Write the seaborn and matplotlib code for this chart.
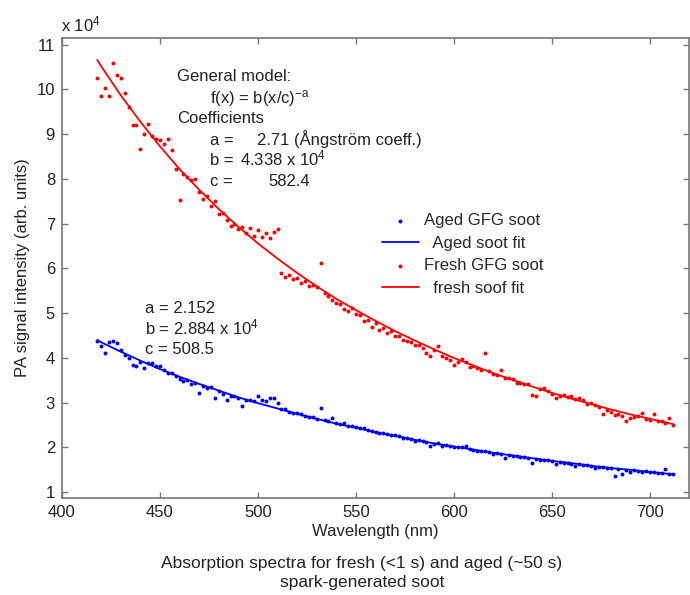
import matplotlib
matplotlib.use("Agg")
import matplotlib.pyplot as plt
import seaborn as sns
import numpy as np
import pandas as pd

### measured wavelengths (nm), shared by both soot samples
wavelength = [418, 420, 422, 424, 426, 428, 430, 432, 434, 436,
              438, 440, 442, 444, 446, 448, 450, 452, 454, 456,
              458, 460, 462, 464, 466, 468, 470, 472, 474, 476,
              478, 480, 482, 484, 486, 488, 490, 492, 494, 496,
              498, 500, 502, 504, 506, 508, 510, 512, 514, 516,
              518, 520, 522, 524, 526, 528, 530, 532, 534, 536,
              538, 540, 542, 544, 546, 548, 550, 552, 554, 556,
              558, 560, 562, 564, 566, 568, 570, 572, 574, 576,
              578, 580, 582, 584, 586, 588, 590, 592, 594, 596,
              598, 600, 602, 604, 606, 608, 610, 612, 614, 616,
              618, 620, 622, 624, 626, 628, 630, 632, 634, 636,
              638, 640, 642, 644, 646, 648, 650, 652, 654, 656,
              658, 660, 662, 664, 666, 668, 670, 672, 674, 676,
              678, 680, 682, 684, 686, 688, 690, 692, 694, 696,
              698, 700, 702, 704, 706, 708, 710, 712]

### PA signal (x 10^4) for fresh soot
fresh_signal = [10.25, 9.86, 10.03, 9.86, 10.59, 10.32, 10.25, 9.92, 9.60, 9.20,
                9.21, 8.68, 9.01, 9.22, 8.97, 8.90, 8.87, 8.79, 8.90, 8.64,
                8.23, 7.53, 8.10, 8.05, 7.98, 8.00, 7.70, 7.55, 7.62, 7.40,
                7.50, 7.22, 7.25, 7.08, 6.95, 7.00, 6.88, 6.92, 6.80, 6.90,
                6.72, 6.85, 6.70, 6.80, 6.68, 6.82, 6.88, 5.89, 5.80, 5.85,
                5.76, 5.78, 5.68, 5.72, 5.60, 5.62, 5.58, 6.12, 5.45, 5.38,
                5.30, 5.22, 5.20, 5.10, 5.05, 5.12, 4.98, 4.95, 4.82, 4.85,
                4.70, 4.78, 4.62, 4.66, 4.56, 4.60, 4.48, 4.50, 4.40, 4.37,
                4.35, 4.30, 4.28, 4.22, 4.10, 4.04, 4.18, 4.26, 4.05, 4.00,
                3.95, 3.85, 3.92, 3.98, 3.90, 3.80, 3.82, 3.78, 3.72, 4.11,
                3.70, 3.64, 3.62, 3.74, 3.56, 3.55, 3.52, 3.45, 3.44, 3.42,
                3.41, 3.18, 3.14, 3.30, 3.33, 3.26, 3.20, 3.11, 3.15, 3.17,
                3.12, 3.14, 3.08, 3.11, 3.06, 2.98, 3.00, 2.94, 2.90, 2.74,
                2.84, 2.80, 2.72, 2.74, 2.70, 2.58, 2.66, 2.68, 2.70, 2.78,
                2.64, 2.62, 2.74, 2.60, 2.58, 2.55, 2.66, 2.50]

### PA signal (x 10^4) for aged soot
aged_signal = [4.37, 4.26, 4.11, 4.36, 4.37, 4.34, 4.18, 4.07, 4.00, 3.85,
               3.81, 3.92, 3.78, 3.89, 3.89, 3.82, 3.81, 3.74, 3.67, 3.66,
               3.59, 3.52, 3.48, 3.50, 3.41, 3.44, 3.22, 3.38, 3.33, 3.35,
               3.11, 3.26, 3.20, 3.07, 3.14, 3.16, 3.10, 2.92, 3.05, 3.07,
               3.04, 3.14, 3.06, 3.03, 3.10, 3.11, 3.00, 2.86, 2.85, 2.80,
               2.78, 2.76, 2.74, 2.70, 2.69, 2.68, 2.64, 2.89, 2.62, 2.60,
               2.66, 2.55, 2.52, 2.55, 2.48, 2.47, 2.45, 2.43, 2.44, 2.40,
               2.37, 2.35, 2.33, 2.33, 2.30, 2.28, 2.27, 2.25, 2.22, 2.20,
               2.19, 2.14, 2.16, 2.14, 2.12, 2.03, 2.08, 2.09, 2.03, 2.06,
               2.04, 2.02, 2.01, 2.00, 2.03, 1.96, 1.95, 1.92, 1.93, 1.91,
               1.90, 1.85, 1.87, 1.86, 1.77, 1.83, 1.81, 1.80, 1.79, 1.78,
               1.77, 1.66, 1.74, 1.73, 1.73, 1.71, 1.70, 1.62, 1.67, 1.66,
               1.65, 1.64, 1.59, 1.62, 1.61, 1.60, 1.59, 1.55, 1.57, 1.56,
               1.55, 1.54, 1.36, 1.52, 1.40, 1.50, 1.44, 1.49, 1.47, 1.46,
               1.47, 1.45, 1.44, 1.43, 1.42, 1.51, 1.41, 1.40]

### fitted curves
fit_nm = [418, 420, 430, 440, 450, 460, 470, 480, 490, 500, 510, 520, 530, 540, 550, 560,
          570, 580, 590, 600, 610, 620, 630, 640, 650, 660, 670, 680, 690, 700, 710, 712]
fresh_fit = [10.66, 10.52, 9.87, 9.28, 8.73, 8.22, 7.76, 7.33, 6.93, 6.56, 6.22, 5.90, 5.60, 5.32, 5.07, 4.83,
             4.60, 4.39, 4.19, 4.00, 3.83, 3.66, 3.51, 3.36, 3.22, 3.09, 2.97, 2.85, 2.74, 2.64, 2.54, 2.52]
aged_fit = [4.40, 4.35, 4.14, 3.94, 3.75, 3.58, 3.42, 3.27, 3.12, 2.99, 2.87, 2.75, 2.64, 2.53, 2.44, 2.34,
            2.26, 2.17, 2.09, 2.02, 1.95, 1.88, 1.82, 1.76, 1.70, 1.65, 1.59, 1.54, 1.50, 1.45, 1.41, 1.40]

W, H = 690, 595

sns.set_style("ticks")
plt.rcParams['font.family'] = ['Liberation Sans', 'DejaVu Sans']
plt.rcParams['mathtext.fontset'] = 'custom'
plt.rcParams['mathtext.rm'] = 'Liberation Sans'
plt.rcParams['mathtext.it'] = 'Liberation Sans:italic'

data = pd.DataFrame({'nm': wavelength, 'fresh': fresh_signal, 'aged': aged_signal})
fits = pd.DataFrame({'nm': fit_nm, 'fresh': fresh_fit, 'aged': aged_fit})

fig = plt.figure(figsize=(W / 100, H / 100), dpi=100)
ax = fig.add_axes([62 / W, 1 - 498 / H, 627 / W, 460 / H])

sns.scatterplot(data=data, x='nm', y='aged', color='#0000ff', s=8, linewidth=0,
                label='Aged GFG soot', ax=ax)
sns.lineplot(data=fits, x='nm', y='aged', color='#0000ff', lw=1.3, sort=False,
             label='  Aged soot fit', ax=ax)
sns.scatterplot(data=data, x='nm', y='fresh', color='#ff0000', s=8, linewidth=0,
                label='Fresh GFG soot', ax=ax)
sns.lineplot(data=fits, x='nm', y='fresh', color='#ff0000', lw=1.3, sort=False,
             label='  fresh soof fit', ax=ax)

ax.set_xlim(400, 720)
ax.set_ylim(0.87, 11.15)
ax.set_xticks([400, 450, 500, 550, 600, 650, 700])
ax.set_yticks(range(1, 12))
ax.tick_params(direction='in', length=4, width=1, color='#777777', labelsize=12,
               labelcolor='#222222', top=True, right=True, pad=5)
for sp in ax.spines.values():
    sp.set_color('#777777')
    sp.set_linewidth(1.2)

ax.set_xlabel('Wavelength (nm)', fontsize=12, labelpad=3, color='#222222')
ax.set_ylabel('PA signal intensity (arb. units)', fontsize=12, labelpad=5, color='#222222')

leg = ax.legend(loc='upper left', bbox_to_anchor=(382 / W, 1 - 213 / H),
                bbox_transform=fig.transFigure, frameon=False, fontsize=12,
                borderpad=0, borderaxespad=0, handlelength=2.2, handletextpad=0.3,
                labelspacing=0.45)


def txt(x, y, s, **kw):
    # y is the visual centre of the capitals; place text on its baseline
    fig.text(x / W, 1 - (y + 6) / H, s, fontsize=12, color='#222222', va='baseline', **kw)


txt(61, 25, r'x $\mathregular{10^{4}}$')

### general model annotation (fresh soot)
txt(177, 75, 'General model:')
txt(210, 97, r'f(x) = $\mathregular{b(x/c)^{-a}}$')
txt(177, 117, 'Coefficients')
txt(210, 139, 'a =')
txt(257, 139, '2.71 (Ångström coeff.)')
txt(210, 159, 'b =')
txt(240, 159, r'4.338 x $\mathregular{10^{4}}$')
txt(210, 180, 'c =')
txt(268, 180, '582.4')

### aged soot coefficients
txt(145, 307, 'a = 2.152')
txt(145, 328, r'b = 2.884 x $\mathregular{10^{4}}$')
txt(145, 348, 'c = 508.5')

fig.text(362 / W, 1 - 573 / H,
         'Absorption spectra for fresh (<1 s) and aged (~50 s)\nspark-generated soot',
         ha='center', va='center', fontsize=12.5, color='#222222', linespacing=1.35)

fig.savefig('out.png', dpi=100)
